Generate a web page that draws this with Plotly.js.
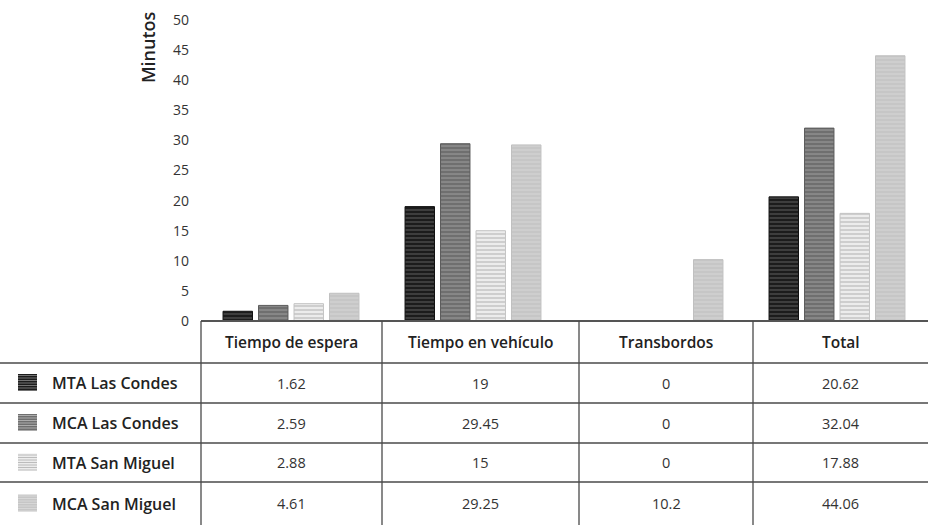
<!DOCTYPE html>
<html><head><meta charset="utf-8">
<script src="https://cdn.plot.ly/plotly-3.0.1.min.js"></script>
<style>html,body{margin:0;padding:0;background:#fff}#chart{width:928px;height:525px}</style>
</head><body><div id="chart"></div>
<script>
const categories = ["Tiempo de espera", "Tiempo en vehículo", "Transbordos", "Total"];
const seriesNames = ["MTA Las Condes", "MCA Las Condes", "MTA San Miguel", "MCA San Miguel"];
const mtaLasCondes = [1.62, 19, 0, 20.62];
const mcaLasCondes = [2.59, 29.45, 0, 32.04];
const mtaSanMiguel = [2.88, 15, 0, 17.88];
const mcaSanMiguel = [4.61, 29.25, 10.2, 44.06];
const yTicks = [0, 5, 10, 15, 20, 25, 30, 35, 40, 45, 50];

const seriesValues = [mtaLasCondes, mcaLasCondes, mtaSanMiguel, mcaSanMiguel];
const styles = [
  {bg: "#1c1c1c", fg: "#8a8a8a", line: "#111", size: 4, sol: 0.3},
  {bg: "#6f6f6f", fg: "#bdbdbd", line: "#5c5c5c", size: 4, sol: 0.3},
  {bg: "#ececec", fg: "#b0b0b0", line: "#c4c4c4", size: 4, sol: 0.5},
  {bg: "#c6c6c6", fg: "#dcdcdc", line: "#c0c0c0", size: 4, sol: 0.35}
];

const traces = seriesValues.map((vals, i) => ({
  type: "bar", name: seriesNames[i], x: categories, y: vals,
  marker: {color: styles[i].bg,
    pattern: {shape: "-", fgcolor: styles[i].fg, bgcolor: styles[i].bg, size: styles[i].size, solidity: styles[i].sol, fillmode: "overlay"},
    line: {color: styles[i].line, width: 1}},
  showlegend: false, hoverinfo: "skip"
}));

const W = 928, H = 525, L = 200, R = 0, T = 20, B = 204;
const pw = W - L - R, ph = H - T - B;
const px = v => (v - L) / pw;
const py = v => (H - B - v) / ph;
const colEdges = [201, 382, 579, 753, 928];
const rowEdges = [321, 363, 403, 443, 482, 525];
const lineColor = "#4a4a4a";
const font = "Open Sans";

const shapes = [];
const annotations = [];
shapes.push({type: "line", xref: "paper", yref: "paper", x0: px(colEdges[0]), x1: px(W), y0: py(rowEdges[0]), y1: py(rowEdges[0]), line: {color: "#555", width: 2}});
for (let r = 1; r < rowEdges.length - 1; r++) {
  shapes.push({type: "line", xref: "paper", yref: "paper", x0: px(0), x1: px(W), y0: py(rowEdges[r]), y1: py(rowEdges[r]), line: {color: lineColor, width: 1.3}});
}
for (let c = 0; c < colEdges.length - 1; c++) {
  shapes.push({type: "line", xref: "paper", yref: "paper", x0: px(colEdges[c]), x1: px(colEdges[c]), y0: py(rowEdges[0]), y1: py(H), line: {color: lineColor, width: 1.3}});
}
categories.forEach((cat, c) => {
  annotations.push({xref: "paper", yref: "paper", x: px((colEdges[c] + colEdges[c + 1]) / 2), y: py((rowEdges[0] + rowEdges[1]) / 2),
    text: cat, showarrow: false, xanchor: "center", yanchor: "middle",
    font: {family: font, size: 15.5, weight: 600, color: "#222"}});
});
seriesNames.forEach((name, r) => {
  const yc = (rowEdges[r + 1] + rowEdges[r + 2]) / 2;
  annotations.push({xref: "paper", yref: "paper", x: px(50), y: py(yc), text: name, showarrow: false,
    xanchor: "left", yanchor: "middle", font: {family: font, size: 16, weight: 600, color: "#222"}});
  seriesValues[r].forEach((v, c) => {
    annotations.push({xref: "paper", yref: "paper", x: px((colEdges[c] + colEdges[c + 1]) / 2), y: py(yc), text: String(v), showarrow: false,
      xanchor: "center", yanchor: "middle", font: {family: font, size: 14.5, color: "#333"}});
  });
  const s = styles[r];
  const x0 = 18, x1 = 37, y0 = yc - 9, y1 = yc + 8;
  shapes.push({type: "rect", xref: "paper", yref: "paper", x0: px(x0), x1: px(x1), y0: py(y1), y1: py(y0), fillcolor: s.bg, line: {width: 0}});
  for (let k = y0 + 1.5; k < y1; k += 2.5) {
    shapes.push({type: "line", xref: "paper", yref: "paper", x0: px(x0), x1: px(x1), y0: py(k), y1: py(k), line: {color: s.fg, width: 0.8}});
  }
});
annotations.push({xref: "paper", yref: "paper", x: px(148), y: py(9), text: "Minutos", textangle: -90, showarrow: false,
  xanchor: "center", yanchor: "top", font: {family: font, size: 18, weight: 600, color: "#222"}});

const layout = {
  width: W, height: H,
  margin: {l: L, r: R, t: T, b: B, pad: 0},
  paper_bgcolor: "#fff", plot_bgcolor: "#fff",
  barmode: "group", bargap: 0.22, bargroupgap: 0.17,
  xaxis: {type: "category", showticklabels: false, showgrid: false, zeroline: false, showline: false, ticks: ""},
  yaxis: {range: [0, 50], tickvals: yTicks, showgrid: false, zeroline: false, showline: false, ticks: "",
    ticklabelstandoff: 10, tickfont: {family: font, size: 14, color: "#333"}},
  shapes: shapes, annotations: annotations, showlegend: false
};

Plotly.newPlot("chart", traces, layout, {displayModeBar: false, staticPlot: true});
</script></body></html>
